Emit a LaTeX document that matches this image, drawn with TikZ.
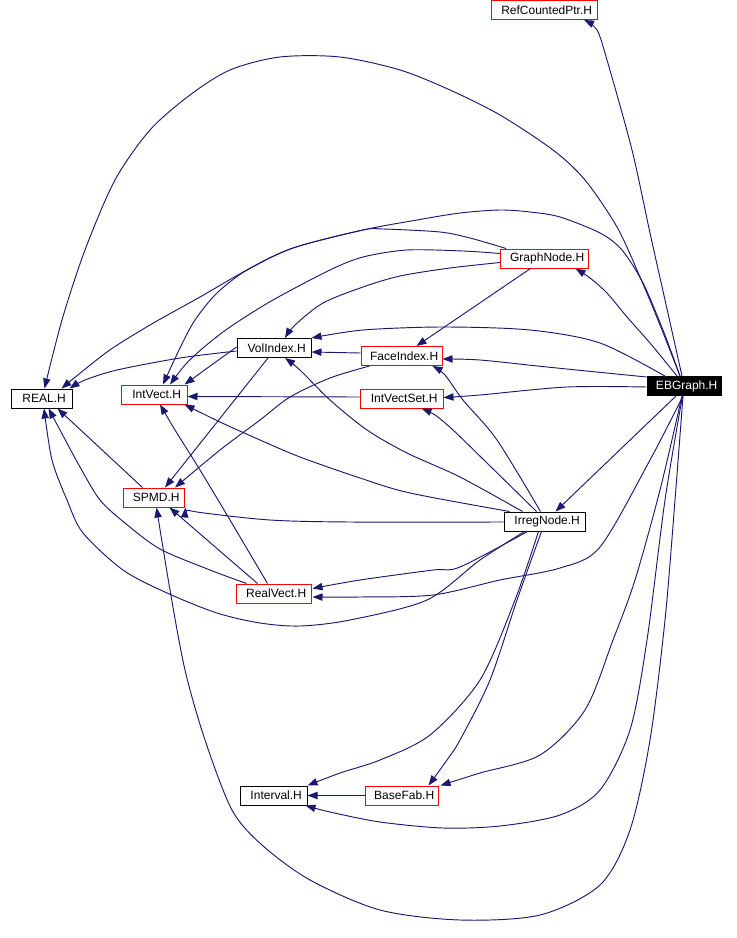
\documentclass[tikz,border=0pt]{standalone}
\usepackage{fontspec}
\setmainfont{Liberation Sans}
\usetikzlibrary{arrows.meta,calc}
\definecolor{ebc}{HTML}{191970}
\definecolor{nred}{HTML}{FF0000}
\tikzset{
  edge/.style={draw=ebc, line width=0.7pt, -{Triangle[length=7.5pt,width=5.5pt]}},
  box/.style={draw, line width=0.75pt, inner sep=0pt, minimum height=14.25pt,
    font=\fontsize{9}{10}\selectfont, anchor=center, execute at begin node={\hspace*{4pt}}},
  redbox/.style={box, draw=nred},
  blkbox/.style={box, draw=black},
  curbox/.style={box, draw=black, fill=black, text=white},
}
\begin{document}
\begin{tikzpicture}[x=0.75pt, y=-0.75pt]
\fill[white] (0,0) rectangle (736,938);
\useasboundingbox (0,0) rectangle (736,938);

% nodes
\node[redbox, minimum width=79.5pt]  (RC)  at (544,10)      {RefCountedPtr.H};
\node[curbox, minimum width=55.5pt]  (EB)  at (684,386)     {EBGraph.H};
\node[redbox, minimum width=66pt]    (GN)  at (544.5,258.5) {GraphNode.H};
\node[blkbox, minimum width=55.5pt]  (VI)  at (274,348)     {VolIndex.H};
\node[redbox, minimum width=60.75pt] (FI)  at (401.5,356)   {FaceIndex.H};
\node[blkbox, minimum width=45.75pt] (RE)  at (41.5,398.5)  {REAL.H};
\node[redbox, minimum width=49.5pt]  (IV)  at (154,394.5)   {IntVect.H};
\node[redbox, minimum width=62.25pt] (IVS) at (401.5,398.5) {IntVectSet.H};
\node[redbox, minimum width=45.75pt] (SP)  at (153.5,497.5) {SPMD.H};
\node[blkbox, minimum width=60.75pt] (IR)  at (544.5,521.5) {IrregNode.H};
\node[redbox, minimum width=56.25pt] (RV)  at (273.5,593.5) {RealVect.H};
\node[blkbox, minimum width=50.25pt] (IN)  at (273.5,795.5) {Interval.H};
\node[redbox, minimum width=54.75pt] (BF)  at (401.5,795.5) {BaseFab.H};

% EBGraph edges
\draw[edge] plot[smooth] coordinates {($(EB.north)+(-2,0)$) (665,300) (650,233) (632,150) (607,60) (597,30) ($(RC.south)+(40,0)$)};
\draw[edge] plot[smooth] coordinates {($(EB.north)+(-4,0)$) (660,325) (640,277) (617,227) (585,180) (553,150) (500,115) (450,90) (400,70) (340,57) (280,57) (230,70) (190,95) (150,130) (115,180) (85,250) (62,320) ($(RE.north)+(3,0)$)};
\draw[edge] plot[smooth] coordinates {($(EB.north)+(-7,0)$) (650,343) (627,317) (607,293) (590,278) ($(GN.south)+(31,0)$)};
\draw[edge] plot[smooth] coordinates {($(EB.north)+(-4,0)$) (663,330) (643,283) (622,250) (600,233) (560,217) (530,212) (500,210) (460,213) (417,220) (363,230) (293,248) (247,270) (217,293) (195,320) (180,348) ($(IV.north)+(9,0)$)};
\draw[edge] plot[smooth] coordinates {($(EB.north west)+(20,1)$) (600,343) (530,330) (443,327) (363,330) (VI.north east)};
\draw[edge] plot[smooth] coordinates {($(EB.west)+(0,-9)$) (547,367) (480,360) ($(FI.east)+(0,3)$)};
\draw[edge] plot[smooth] coordinates {($(EB.west)+(0,1)$) (567,387) (480,395) ($(IVS.east)+(0,-1)$)};
\draw[edge] ($(EB.south)+(-8,0)$) -- ($(IR.north)+(11,0)$);
\draw[edge] plot[smooth] coordinates {($(EB.south)+(-1,0)$) (650,460) (600,547) (560,568) (500,580) (433,595) (360,597) ($(RV.east)+(1,3.5)$)};
\draw[edge] plot[smooth] coordinates {($(EB.south)+(-2,0)$) (660,490) (635,580) (613,640) (585,710) (540,755) (480,773) ($(BF.north east)+(2,0)$)};
\draw[edge] plot[smooth] coordinates {($(EB.south)+(-1.5,0)$) (665,500) (647,640) (630,730) (600,790) (560,815) (500,826) (443,828) (380,822) (330,812) ($(IN.south east)+(-2,0)$)};
\draw[edge] plot[smooth] coordinates {($(EB.south)+(-1,0)$) (675,500) (665,620) (650,740) (630,830) (600,885) (540,915) (460,920) (380,910) (310,880) (262,845) (232,810) (205,740) (185,670) (170,590) ($(SP.south)+(3,0)$)};

% GraphNode edges
\draw[edge] plot[smooth] coordinates {($(GN.north west)+(6,0)$) (470,238) (440,232) (383,229) (363,230) (293,248) (247,270) (200,297) (150,325) (107,352) ($(RE.north)+(20,0)$)};
\draw[edge] plot[smooth] coordinates {($(GN.west)+(0,-5)$) (463,251) (407,250) (363,257) (330,270) (273,300) (230,327) (203,348) (185,365) ($(IV.north)+(16,0)$)};
\draw[edge] plot[smooth] coordinates {($(GN.west)+(0,4)$) (450,268) (400,276) (363,287) (323,303) (295,325) ($(VI.north)+(11,0)$)};
\draw[edge] ($(GN.south)+(-14,0)$) -- ($(FI.north)+(15,0)$);

% VolIndex / FaceIndex / IntVectSet
\draw[edge] ($(FI.west)+(0,-3)$) -- ($(VI.east)+(0,4)$);
\draw[edge] plot[smooth] coordinates {($(VI.west)+(0,3)$) (180,358) (117,370) (85,380) ($(RE.north east)+(-3,0)$)};
\draw[edge] ($(VI.west)+(0,-1)$) -- ($(IV.north east)+(-3,0)$);
\draw[edge] ($(IVS.west)+(0,-1.5)$) -- ($(IV.east)+(0,2)$);
\draw[edge] ($(VI.south)+(-6,0)$) -- ($(SP.north)+(11.5,0)$);
\draw[edge] plot[smooth] coordinates {($(FI.south west)+(9,0)$) (330,378) (290,397) (260,420) (220,450) ($(SP.north)+(21.5,0)$)};

% IrregNode edges
\draw[edge] plot[smooth] coordinates {($(IR.north west)+(19,0)$) (460,477) (407,453) (367,430) (330,400) (300,370) ($(VI.south)+(11,0)$)};
\draw[edge] plot[smooth] coordinates {($(IR.north)+(-4,0)$) (497,440) (463,400) (445,375) ($(FI.south)+(31,0)$)};
\draw[edge] plot[smooth] coordinates {($(IR.north)+(-8,0)$) (487,463) (453,430) (435,415) ($(IVS.south)+(20,0)$)};
\draw[edge] plot[smooth] coordinates {($(IR.north west)+(6,0)$) (410,493) (360,478) (300,457) (260,440) (220,422) ($(IV.south east)+(-3,0)$)};
\draw[edge] plot[smooth] coordinates {($(IR.west)+(0,0.5)$) (350,522) (270,520) (197,512) ($(SP.south east)+(1,0)$)};
\draw[edge] plot[smooth] coordinates {($(IR.south west)+(24,0)$) (460,567) (433,570) (360,580) ($(RV.east)+(1,-5)$)};
\draw[edge] plot[smooth] coordinates {($(IR.south west)+(21,0)$) (480,560) (427,600) (350,620) (300,626) (260,623) (217,613) (167,593) (123,570) (83,533) (67,500) (52,460) ($(RE.south)+(2.5,0)$)};
\draw[edge] plot[smooth] coordinates {($(IR.south)+(-6,0)$) (515,600) (480,680) (430,735) (380,760) (340,773) (IN.north east)};
\draw[edge] plot[smooth] coordinates {($(IR.south)+(-3,0)$) (517,600) (490,680) (460,740) (447,760) ($(BF.north)+(27,0)$)};

% SPMD / RealVect / BaseFab
\draw[edge] ($(SP.north west)+(20,0)$) -- ($(RE.south)+(16,0)$);
\draw[edge] plot[smooth] coordinates {($(RV.north west)+(11,0)$) (210,570) (160,549) (125,523) (100,500) (80,467) (60,430) ($(RE.south)+(7,0)$)};
\draw[edge] ($(RV.north)+(-16,0)$) -- ($(SP.south)+(16,0)$);
\draw[edge] plot[smooth] coordinates {($(RV.north)+(-6,0)$) (230,520) (200,470) (175,430) ($(IV.south)+(6,0)$)};
\draw[edge] (BF.west) -- (IN.east);
\end{tikzpicture}
\end{document}
